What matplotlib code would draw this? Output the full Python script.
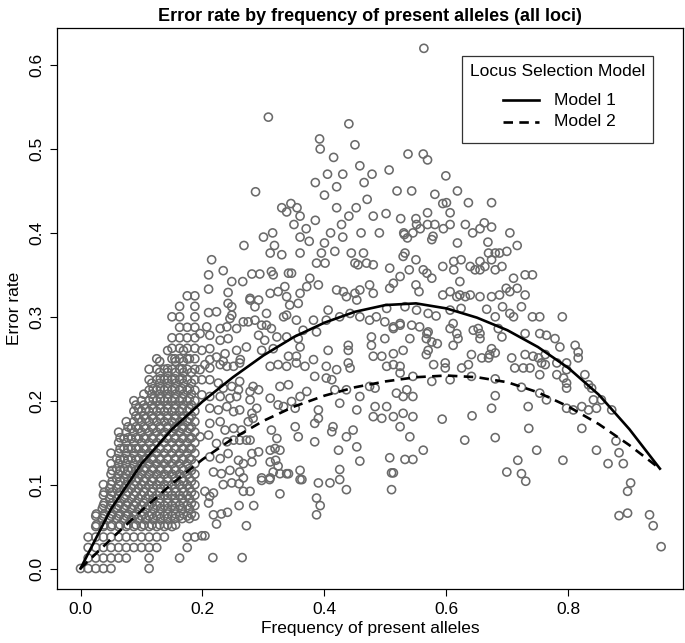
import matplotlib
matplotlib.use("Agg")
import matplotlib.pyplot as plt
from matplotlib.lines import Line2D
from matplotlib.patches import Rectangle

plt.rcParams["font.family"] = ["Liberation Sans", "DejaVu Sans"]

# --- data -------------------------------------------------------------
# dense lower-left part of the cloud sits on a lattice of counts / n
# row (error count) -> columns (allele count)
grid_denom = 80
grid_rows = {
    0: [0, 1, 2, 3, 4, 9],
    1: [1, 2, 3, 4, 5, 6, 9, 13],
    2: [1, 2, 3, 4, 5, 6, 7, 8, 9, 10, 14],
    3: [1, 2, 3, 4, 5, 6, 7, 8, 9, 10, 11, 14, 15],
    4: [2, 3, 4, 5, 6, 7, 8, 9, 10, 11, 12],
    5: [2, 3, 4, 5, 6, 7, 8, 9, 10, 11, 12, 13, 14, 15],
    6: [3, 4, 5, 6, 7, 8, 9, 10, 11, 12, 13, 14, 15],
    7: [3, 4, 5, 6, 7, 8, 9, 10, 11, 12, 13, 14, 15],
    8: [3, 4, 5, 6, 7, 8, 9, 10, 11, 12, 13, 14, 15],
    9: [4, 5, 6, 7, 8, 9, 10, 11, 12, 13, 14, 15],
    10: [4, 5, 6, 7, 8, 9, 10, 11, 12, 13, 14, 15],
    11: [4, 5, 6, 7, 8, 9, 10, 11, 12, 13, 14, 15],
    12: [5, 6, 7, 8, 9, 10, 11, 12, 13, 14, 15],
    13: [5, 6, 7, 8, 9, 10, 11, 12, 13, 14, 15],
    14: [6, 7, 8, 9, 10, 11, 12, 13, 14, 15],
    15: [7, 8, 9, 10, 11, 12, 13, 14, 15],
    16: [7, 8, 9, 10, 11, 12, 13, 14, 15],
    17: [9, 10, 11, 12, 13, 14, 15],
    18: [9, 10, 11, 12, 13, 14, 15],
    19: [9, 10, 11, 12, 13, 14, 15],
    20: [10, 12, 13, 14, 15],
    21: [12, 13, 14, 15],
    22: [12, 13, 14, 15],
    23: [13, 14, 15],
    24: [12, 13, 15],
    25: [13, 15],
    26: [14, 15],
}

# loci typed on fewer / more samples: same counts on neighbouring lattices
grid_denom_b = 77
grid_rows_b = {
    4: [2, 3, 4, 5, 6, 7, 8, 9, 10, 11, 12],
    5: [2, 3, 4, 5, 6, 7, 8, 9, 10, 11, 12, 13, 14],
    6: [3, 4, 5, 6, 7, 8, 9, 10, 11, 12, 13, 14],
    7: [3, 4, 5, 6, 7, 8, 9, 10, 11, 12, 13, 14],
    8: [4, 5, 6, 7, 8, 9, 10, 11, 12, 13, 14],
    9: [4, 5, 6, 7, 8, 9, 10, 11, 12, 13, 14],
    10: [5, 6, 7, 8, 9, 10, 11, 12, 13, 14],
    11: [5, 6, 7, 8, 9, 10, 11, 12, 13, 14],
    12: [5, 6, 7, 8, 9, 10, 11, 12, 13, 14],
    13: [6, 7, 8, 9, 10, 11, 12, 13, 14],
    14: [7, 8, 9, 10, 11, 12, 13, 14],
    15: [7, 8, 9, 10, 11, 12, 13, 14],
    16: [8, 9, 10, 11, 12, 13, 14],
    17: [9, 10, 11, 12, 13, 14],
    18: [10, 11, 12, 13, 14],
    19: [10, 12, 13],
    20: [11, 13],
}

grid_denom_c = 84
grid_rows_c = {
    5: [3, 4, 5, 6, 7, 8, 9, 10, 11, 12, 13, 14, 15],
    6: [3, 4, 5, 6, 7, 8, 9, 10, 11, 12, 13, 14, 15],
    7: [4, 5, 6, 7, 8, 9, 10, 11, 12, 13, 14, 15],
    8: [4, 5, 6, 7, 8, 9, 10, 11, 12, 13, 14, 15],
    9: [5, 6, 7, 8, 9, 10, 11, 12, 13, 14, 15],
    10: [5, 6, 7, 8, 9, 10, 11, 12, 13, 14, 15],
    11: [5, 6, 7, 8, 9, 10, 11, 12, 13, 14, 15],
    12: [6, 7, 8, 9, 10, 11, 12, 13, 14, 15],
    13: [6, 7, 8, 9, 10, 11, 12, 13, 14, 15],
    14: [7, 8, 9, 10, 11, 12, 13, 14, 15],
    15: [8, 9, 10, 11, 12, 13, 14, 15],
    16: [8, 9, 10, 11, 12, 13, 14, 15],
    17: [10, 11, 12, 13, 14, 15],
    18: [10, 11, 12, 13, 14, 15],
    19: [11, 12, 13, 14],
    20: [12, 14],
    21: [13, 15],
}

# scattered loci, (frequency, error rate)
pts_upper_left = [
    (0.215, 0.368), (0.234, 0.355), (0.210, 0.350), (0.248, 0.342), (0.266, 0.342),
    (0.210, 0.333), (0.242, 0.329), (0.278, 0.322), (0.242, 0.316), (0.248, 0.312),
    (0.210, 0.305), (0.223, 0.306), (0.248, 0.302), (0.245, 0.298), (0.267, 0.294),
    (0.275, 0.294), (0.207, 0.288), (0.212, 0.278), (0.229, 0.286), (0.240, 0.288),
    (0.256, 0.286), (0.229, 0.272), (0.242, 0.274), (0.199, 0.260), (0.212, 0.262),
    (0.223, 0.252), (0.237, 0.256), (0.256, 0.260), (0.272, 0.264), (0.212, 0.249),
    (0.234, 0.247), (0.262, 0.249), (0.196, 0.280),
]

pts_lower_left = [
    (0.196, 0.237), (0.204, 0.243), (0.212, 0.239), (0.229, 0.243), (0.240, 0.241),
    (0.251, 0.241), (0.261, 0.245), (0.199, 0.225), (0.212, 0.225), (0.226, 0.221),
    (0.234, 0.215), (0.248, 0.217), (0.259, 0.213), (0.261, 0.223), (0.278, 0.211),
    (0.283, 0.217), (0.292, 0.213), (0.278, 0.201), (0.289, 0.191), (0.281, 0.185),
    (0.283, 0.179), (0.199, 0.207), (0.212, 0.205), (0.229, 0.205), (0.245, 0.203),
    (0.256, 0.205), (0.212, 0.191), (0.226, 0.189), (0.240, 0.193), (0.251, 0.187),
    (0.261, 0.189), (0.212, 0.173), (0.229, 0.175), (0.237, 0.165), (0.251, 0.167),
    (0.264, 0.165), (0.275, 0.175), (0.311, 0.241), (0.324, 0.243), (0.338, 0.241),
    (0.354, 0.245), (0.368, 0.241), (0.327, 0.217), (0.341, 0.219), (0.311, 0.203),
    (0.324, 0.195), (0.333, 0.193), (0.346, 0.199), (0.360, 0.205), (0.371, 0.211),
    (0.352, 0.191), (0.313, 0.165), (0.322, 0.155), (0.352, 0.169), (0.357, 0.157),
    (0.278, 0.153), (0.292, 0.139), (0.281, 0.137), (0.319, 0.143), (0.311, 0.141),
    (0.327, 0.141), (0.320, 0.129), (0.324, 0.122), (0.311, 0.127), (0.316, 0.115),
    (0.327, 0.113), (0.341, 0.113), (0.360, 0.117), (0.363, 0.106), (0.297, 0.108),
    (0.311, 0.108), (0.196, 0.157), (0.210, 0.159), (0.223, 0.149), (0.240, 0.151),
    (0.251, 0.153), (0.261, 0.153), (0.272, 0.153), (0.212, 0.133), (0.229, 0.131),
    (0.242, 0.137), (0.259, 0.129), (0.267, 0.125), (0.281, 0.127), (0.218, 0.115),
    (0.231, 0.113), (0.245, 0.117), (0.261, 0.115), (0.267, 0.108), (0.234, 0.100),
    (0.248, 0.102), (0.260, 0.101), (0.267, 0.092), (0.278, 0.092), (0.204, 0.092),
    (0.218, 0.090), (0.212, 0.086), (0.210, 0.078), (0.260, 0.075), (0.284, 0.075),
    (0.218, 0.064), (0.231, 0.065), (0.241, 0.067), (0.223, 0.053), (0.272, 0.051),
    (0.199, 0.039), (0.204, 0.039), (0.217, 0.013), (0.265, 0.013), (0.327, 0.089),
    (0.297, 0.105), (0.310, 0.106), (0.338, 0.113), (0.360, 0.106),
]

pts_middle = [
    (0.311, 0.376), (0.330, 0.374), (0.360, 0.376), (0.281, 0.351), (0.294, 0.351),
    (0.313, 0.354), (0.316, 0.350), (0.341, 0.352), (0.346, 0.352), (0.376, 0.346),
    (0.387, 0.364), (0.401, 0.364), (0.395, 0.376), (0.417, 0.378), (0.444, 0.376),
    (0.450, 0.364), (0.464, 0.376), (0.469, 0.364), (0.480, 0.362), (0.455, 0.362),
    (0.278, 0.320), (0.292, 0.320), (0.286, 0.312), (0.305, 0.304), (0.311, 0.328),
    (0.324, 0.330), (0.335, 0.336), (0.338, 0.324), (0.343, 0.314), (0.360, 0.328),
    (0.357, 0.316), (0.371, 0.336), (0.390, 0.338), (0.406, 0.308), (0.420, 0.332),
    (0.431, 0.330), (0.436, 0.324), (0.450, 0.328), (0.453, 0.320), (0.458, 0.332),
    (0.474, 0.338), (0.480, 0.328), (0.286, 0.296), (0.297, 0.290), (0.305, 0.290),
    (0.313, 0.286), (0.333, 0.300), (0.338, 0.302), (0.354, 0.296), (0.365, 0.284),
    (0.382, 0.296), (0.403, 0.296), (0.425, 0.300), (0.442, 0.304), (0.458, 0.300),
    (0.474, 0.296), (0.485, 0.300), (0.499, 0.294), (0.513, 0.288), (0.524, 0.290),
    (0.556, 0.288), (0.292, 0.278), (0.302, 0.272), (0.322, 0.276), (0.338, 0.276),
    (0.357, 0.274), (0.360, 0.264), (0.387, 0.282), (0.406, 0.260), (0.439, 0.266),
    (0.439, 0.260), (0.477, 0.276), (0.477, 0.266), (0.499, 0.274), (0.513, 0.256),
    (0.529, 0.260), (0.540, 0.274), (0.570, 0.282), (0.567, 0.274), (0.570, 0.260),
    (0.567, 0.255), (0.297, 0.260), (0.316, 0.262), (0.341, 0.253), (0.354, 0.253),
    (0.382, 0.249), (0.403, 0.241), (0.420, 0.237), (0.439, 0.245), (0.442, 0.239),
    (0.480, 0.253), (0.494, 0.253), (0.502, 0.241), (0.513, 0.243), (0.524, 0.241),
    (0.524, 0.233), (0.545, 0.229), (0.384, 0.229), (0.403, 0.227), (0.412, 0.225),
    (0.417, 0.213), (0.436, 0.213), (0.458, 0.205), (0.474, 0.217), (0.483, 0.215),
    (0.518, 0.209), (0.529, 0.205), (0.535, 0.213), (0.545, 0.205), (0.390, 0.189),
    (0.425, 0.197), (0.453, 0.189), (0.483, 0.193), (0.502, 0.193), (0.494, 0.179),
    (0.513, 0.181), (0.524, 0.169), (0.529, 0.185), (0.545, 0.181), (0.540, 0.157),
    (0.562, 0.141), (0.507, 0.132), (0.532, 0.130), (0.545, 0.130), (0.513, 0.114),
    (0.480, 0.181), (0.384, 0.173), (0.390, 0.179), (0.414, 0.169), (0.412, 0.163),
    (0.436, 0.157), (0.447, 0.165), (0.453, 0.145), (0.423, 0.141), (0.425, 0.118),
    (0.384, 0.151), (0.390, 0.102), (0.387, 0.084), (0.458, 0.128), (0.425, 0.106),
    (0.409, 0.102), (0.436, 0.094), (0.510, 0.114), (0.510, 0.094),
    (0.393, 0.075), (0.387, 0.064),
]

pts_top = [
    (0.287, 0.449), (0.308, 0.538), (0.300, 0.395), (0.315, 0.400), (0.318, 0.385),
    (0.330, 0.430), (0.338, 0.425), (0.345, 0.435), (0.355, 0.430), (0.360, 0.420),
    (0.370, 0.405), (0.375, 0.390), (0.385, 0.460), (0.392, 0.512), (0.393, 0.500),
    (0.400, 0.445), (0.405, 0.470), (0.415, 0.490), (0.420, 0.455), (0.430, 0.470),
    (0.440, 0.530), (0.450, 0.505), (0.458, 0.480), (0.465, 0.460), (0.470, 0.440),
    (0.478, 0.470), (0.452, 0.430), (0.440, 0.420), (0.428, 0.410), (0.410, 0.400),
    (0.460, 0.400), (0.400, 0.388), (0.360, 0.395), (0.268, 0.385), (0.350, 0.410),
    (0.420, 0.430), (0.480, 0.420), (0.490, 0.400), (0.430, 0.395), (0.385, 0.415),
    (0.563, 0.620), (0.537, 0.494), (0.562, 0.494), (0.569, 0.487), (0.506, 0.475),
    (0.599, 0.468), (0.519, 0.450), (0.543, 0.450), (0.581, 0.446), (0.618, 0.450),
    (0.594, 0.435), (0.600, 0.436), (0.636, 0.436), (0.674, 0.436), (0.501, 0.423),
    (0.525, 0.417), (0.569, 0.424), (0.606, 0.424), (0.550, 0.417), (0.551, 0.410),
    (0.569, 0.410), (0.581, 0.410), (0.606, 0.410), (0.631, 0.410), (0.662, 0.412),
    (0.674, 0.407), (0.530, 0.400), (0.545, 0.400), (0.557, 0.405), (0.578, 0.396),
    (0.595, 0.405), (0.618, 0.388), (0.643, 0.400), (0.655, 0.405), (0.668, 0.389),
    (0.704, 0.400), (0.716, 0.385), (0.531, 0.398), (0.536, 0.394), (0.576, 0.392),
]

pts_right = [
    (0.529, 0.372), (0.532, 0.376), (0.550, 0.368), (0.594, 0.360), (0.612, 0.366),
    (0.624, 0.368), (0.655, 0.366), (0.669, 0.376), (0.674, 0.368), (0.680, 0.376),
    (0.687, 0.376), (0.699, 0.378), (0.507, 0.358), (0.524, 0.348), (0.539, 0.356),
    (0.562, 0.356), (0.568, 0.352), (0.576, 0.346), (0.612, 0.356), (0.622, 0.342),
    (0.639, 0.360), (0.647, 0.356), (0.655, 0.356), (0.663, 0.360), (0.680, 0.356),
    (0.691, 0.360), (0.710, 0.346), (0.729, 0.350), (0.741, 0.350), (0.507, 0.334),
    (0.513, 0.340), (0.550, 0.338), (0.555, 0.330), (0.594, 0.326), (0.606, 0.330),
    (0.617, 0.324), (0.622, 0.326), (0.631, 0.324), (0.639, 0.326), (0.655, 0.324),
    (0.674, 0.324), (0.687, 0.326), (0.698, 0.334), (0.704, 0.330), (0.716, 0.334),
    (0.729, 0.326), (0.502, 0.310), (0.532, 0.312), (0.551, 0.308), (0.570, 0.304),
    (0.583, 0.301), (0.606, 0.308), (0.624, 0.310), (0.666, 0.309), (0.680, 0.300),
    (0.692, 0.312), (0.704, 0.304), (0.710, 0.300), (0.723, 0.312), (0.741, 0.300),
    (0.753, 0.300), (0.790, 0.300), (0.513, 0.286), (0.524, 0.292), (0.543, 0.290),
    (0.568, 0.280),
    (0.606, 0.286), (0.611, 0.292), (0.617, 0.280), (0.619, 0.274), (0.644, 0.284),
    (0.652, 0.286), (0.655, 0.280), (0.655, 0.274), (0.685, 0.286), (0.691, 0.276),
    (0.729, 0.280), (0.753, 0.280), (0.764, 0.278), (0.778, 0.274), (0.585, 0.268),
    (0.611, 0.266), (0.576, 0.270), (0.674, 0.262), (0.680, 0.257), (0.707, 0.251),
    (0.669, 0.251), (0.671, 0.255), (0.658, 0.251), (0.641, 0.255), (0.636, 0.243),
    (0.625, 0.239), (0.598, 0.245), (0.598, 0.239), (0.579, 0.243), (0.729, 0.255),
    (0.742, 0.253), (0.751, 0.251), (0.756, 0.245), (0.762, 0.255), (0.762, 0.243),
    (0.781, 0.245), (0.786, 0.264), (0.811, 0.266), (0.816, 0.258), (0.816, 0.251),
    (0.797, 0.245), (0.797, 0.237), (0.781, 0.231), (0.792, 0.227), (0.797, 0.221),
    (0.797, 0.215), (0.712, 0.239), (0.726, 0.239), (0.737, 0.239), (0.753, 0.231),
    (0.827, 0.231), (0.833, 0.219), (0.838, 0.215), (0.841, 0.201), (0.846, 0.191),
    (0.854, 0.201), (0.871, 0.189), (0.822, 0.193), (0.833, 0.189), (0.808, 0.189),
    (0.797, 0.191), (0.576, 0.223), (0.606, 0.225), (0.641, 0.229), (0.680, 0.226),
    (0.723, 0.216), (0.753, 0.209), (0.764, 0.201), (0.734, 0.193), (0.680, 0.206),
    (0.674, 0.191), (0.642, 0.182), (0.593, 0.178), (0.630, 0.153), (0.680, 0.156),
    (0.735, 0.167), (0.748, 0.141), (0.717, 0.129), (0.699, 0.115), (0.723, 0.113),
    (0.730, 0.104), (0.791, 0.129), (0.822, 0.167), (0.846, 0.141), (0.865, 0.125),
    (0.878, 0.152), (0.883, 0.138), (0.890, 0.125), (0.902, 0.102), (0.897, 0.092),
    (0.883, 0.063), (0.897, 0.066), (0.933, 0.064), (0.939, 0.051), (0.952, 0.026),
]

# fitted curves of the two selection models
model_x = [0.00, 0.05, 0.10, 0.15, 0.20, 0.25, 0.30, 0.35, 0.40, 0.45,
           0.50, 0.55, 0.60, 0.65, 0.70, 0.75, 0.80, 0.85, 0.90, 0.95]
model1_y = [0.000, 0.071, 0.125, 0.166, 0.199, 0.228, 0.254, 0.276, 0.293, 0.306,
            0.314, 0.316, 0.310, 0.299, 0.284, 0.264, 0.239, 0.207, 0.166, 0.119]
model2_y = [0.000, 0.035, 0.069, 0.101, 0.130, 0.155, 0.176, 0.193, 0.206, 0.216,
            0.223, 0.228, 0.230, 0.228, 0.222, 0.210, 0.193, 0.172, 0.147, 0.119]

x_ticks = [0.0, 0.2, 0.4, 0.6, 0.8]
y_ticks = [0.0, 0.1, 0.2, 0.3, 0.4, 0.5, 0.6]


def collect_points():
    xs, ys = [], []
    lattices = ((grid_denom, grid_rows), (grid_denom_b, grid_rows_b),
                (grid_denom_c, grid_rows_c))
    for denom, rows in lattices:
        for err, cols in rows.items():
            for al in cols:
                xs.append(al / denom)
                ys.append(err / denom)
    for group in (pts_upper_left, pts_lower_left, pts_middle, pts_top, pts_right):
        for px, py in group:
            xs.append(px)
            ys.append(py)
    return xs, ys


def main():
    xs, ys = collect_points()

    fig = plt.figure(figsize=(6.85, 6.43), dpi=100)
    ax = fig.add_axes([0.0837, 0.0835, 0.9135, 0.8737])

    ax.scatter(xs, ys, s=34, facecolors="none", edgecolors="#6a6a6a",
               linewidths=1.15, zorder=2)

    ax.plot(model_x, model1_y, color="black", lw=1.9, zorder=3)
    ax.plot(model_x, model2_y, color="black", lw=1.9, ls=(0, (3.6, 2.4)), zorder=3)

    ax.set_xlim(-0.038, 0.988)
    ax.set_ylim(-0.0248, 0.6448)
    ax.set_xticks(x_ticks)
    ax.set_xticklabels([f"{v:.1f}" for v in x_ticks])
    ax.set_yticks(y_ticks)
    ax.set_yticklabels([f"{v:.1f}" for v in y_ticks], rotation=90, va="center")
    ax.tick_params(direction="out", length=5, width=0.8, labelsize=12.5, pad=4)
    for sp in ax.spines.values():
        sp.set_linewidth(0.9)

    ax.set_title("Error rate by frequency of present alleles (all loci)",
                 fontsize=13, fontweight="bold", pad=5)
    ax.set_xlabel("Frequency of present alleles", fontsize=12.5, labelpad=3)
    ax.set_ylabel("Error rate", fontsize=12.5, labelpad=6)

    # legend box drawn the way R places it
    ax.add_patch(Rectangle((0.647, 0.795), 0.305, 0.155, transform=ax.transAxes,
                           facecolor="white", edgecolor="#333333", lw=0.9, zorder=4))
    ax.text(0.7994, 0.921, "Locus Selection Model", transform=ax.transAxes,
            ha="center", va="center", fontsize=12.5, zorder=5)
    ax.add_line(Line2D([0.7125, 0.769], [0.8709, 0.8709], transform=ax.transAxes,
                       color="black", lw=1.9, zorder=5))
    ax.add_line(Line2D([0.7125, 0.769], [0.8323, 0.8323], transform=ax.transAxes,
                       color="black", lw=1.9, ls=(0, (3.6, 2.4)), zorder=5))
    ax.text(0.7938, 0.8709, "Model 1", transform=ax.transAxes,
            ha="left", va="center", fontsize=12.5, zorder=5)
    ax.text(0.7938, 0.8323, "Model 2", transform=ax.transAxes,
            ha="left", va="center", fontsize=12.5, zorder=5)

    fig.savefig("out.png", dpi=100)


if __name__ == "__main__":
    main()
